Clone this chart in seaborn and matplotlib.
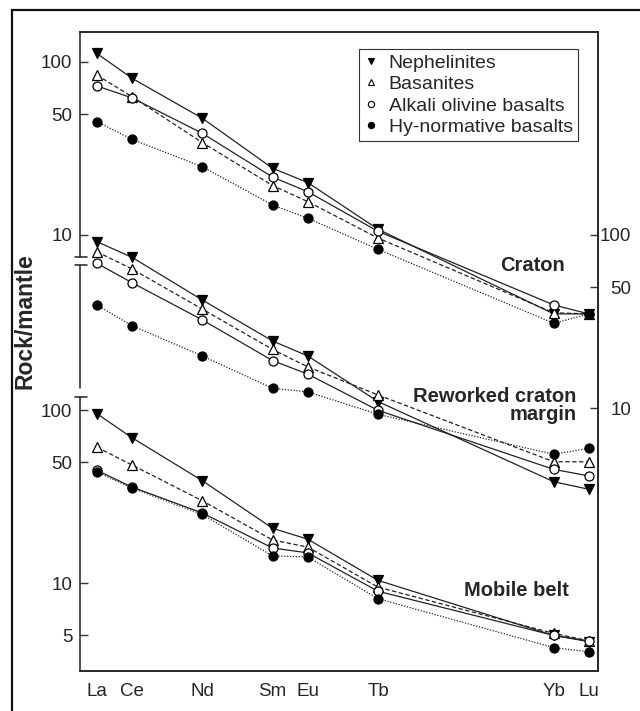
import pandas as pd
import matplotlib
matplotlib.use("Agg")
import matplotlib.pyplot as plt
import matplotlib.transforms as mtransforms
from matplotlib.lines import Line2D
from matplotlib.patches import Rectangle
from matplotlib.ticker import NullLocator, FixedLocator
import seaborn as sns

# REE data (rock / primitive mantle)
elements = ['La', 'Ce', 'Nd', 'Sm', 'Eu', 'Tb', 'Yb', 'Lu']
atomic_no = [57, 58, 60, 62, 63, 65, 70, 71]
rock_types = ['Nephelinites', 'Basanites', 'Alkali olivine basalts', 'Hy-normative basalts']

craton_neph = [112, 80.5, 47.3, 24.3, 20.1, 10.8, 3.5, 3.5]
craton_bas = [84, 63, 34.2, 19.3, 15.6, 9.6, 3.55, 3.5]
craton_alk = [72.7, 62, 38.7, 21.6, 17.8, 10.5, 3.94, 3.5]
craton_hy = [45.2, 35.7, 24.8, 14.9, 12.5, 8.26, 3.09, 3.5]

margin_neph = [91.5, 74.3, 42.1, 24.4, 20.0, 10.9, 3.75, 3.39]
margin_bas = [80.0, 63.6, 37.3, 21.8, 17.3, 11.9, 4.89, 4.89]
margin_alk = [68.6, 53.0, 32.3, 18.8, 15.7, 9.7, 4.42, 4.05]
margin_hy = [39.4, 29.9, 20.0, 13.0, 12.4, 9.2, 5.40, 5.85]

mobile_neph = [95.6, 69.4, 39.2, 20.8, 18.0, 10.4, 5.0, 4.6]
mobile_bas = [61.2, 48.3, 30.0, 17.8, 16.2, 9.5, 5.14, 4.65]
mobile_alk = [45, 36, 25.5, 16.0, 15.0, 9.0, 5.0, 4.65]
mobile_hy = [44, 35.5, 25.0, 14.4, 14.2, 8.15, 4.25, 4.02]

groups = {
    'Craton': [craton_neph, craton_bas, craton_alk, craton_hy],
    'Reworked craton margin': [margin_neph, margin_bas, margin_alk, margin_hy],
    'Mobile belt': [mobile_neph, mobile_bas, mobile_alk, mobile_hy],
}
# vertical offsets (multiplicative, log axis) used to stack the three panels
offsets = {'Craton': 1.0, 'Reworked craton margin': 0.1, 'Mobile belt': 0.0097}

left_ticks = [100, 50, 10]
left_ticks_low = [100, 50, 10, 5]
right_ticks = [100, 50, 10]

rows = []
for grp, series in groups.items():
    for rock, vals in zip(rock_types, series):
        for el, z, v in zip(elements, atomic_no, vals):
            rows.append({'group': grp, 'rock': rock, 'element': el, 'Z': z,
                         'value': v, 'plot_value': v * offsets[grp]})
df = pd.DataFrame(rows)

sns.set_style("white")
plt.rcParams['font.family'] = ['Liberation Sans', 'DejaVu Sans']

styles = {
    'Nephelinites': dict(marker='v', mfc='k', ls='-', ms=7),
    'Basanites': dict(marker='^', mfc='white', ls=(0, (3.5, 2)), ms=7),
    'Alkali olivine basalts': dict(marker='o', mfc='white', ls='-', ms=6.5),
    'Hy-normative basalts': dict(marker='o', mfc='k', ls=(0, (1, 1.3)), ms=6.5),
}
line_col = '#222222'

fig = plt.figure(figsize=(6.4, 7.11), dpi=100)
ax = fig.add_axes([80 / 640, 1 - 671 / 711, 518 / 640, 639 / 711])
ax.set_yscale('log')

for (grp, rock), sub in df.groupby(['group', 'rock'], sort=False):
    st = styles[rock]
    sns.lineplot(data=sub, x='Z', y='plot_value', ax=ax, color=line_col,
                 marker=st['marker'], markersize=st['ms'],
                 markerfacecolor=st['mfc'], markeredgecolor='k',
                 markeredgewidth=0.9, linestyle=st['ls'], lw=0.9,
                 estimator=None, sort=False, legend=False)

ax.set_xlim(56.52, 71.26)
ax.set_ylim(0.0302, 149)

# x axis
ax.set_xticks(atomic_no)
ax.set_xticklabels(elements)
ax.set_xlabel('')

# left axis: craton scale on top, mobile belt scale below
f_low = offsets['Mobile belt']
lt = left_ticks + [t * f_low for t in left_ticks_low]
ax.yaxis.set_major_locator(FixedLocator(lt))
ax.yaxis.set_minor_locator(NullLocator())
ax.set_yticklabels([str(t) for t in left_ticks + left_ticks_low])
ax.set_ylabel('Rock/mantle', fontsize=16.5, fontweight='bold')
ax.yaxis.set_label_coords(-0.084, 0.548)

ax.tick_params(axis='both', direction='in', length=6, width=1,
               labelsize=13.5, color='#333333')
ax.tick_params(axis='y', pad=5.5)
ax.tick_params(axis='x', pad=8.5)

# right axis: reworked craton margin scale
ax2 = ax.twinx()
ax2.set_yscale('log')
ax2.set_ylim(ax.get_ylim())
f_mid = offsets['Reworked craton margin']
ax2.yaxis.set_major_locator(FixedLocator([t * f_mid for t in right_ticks]))
ax2.yaxis.set_minor_locator(NullLocator())
ax2.set_yticklabels([str(t) for t in right_ticks])
ax2.tick_params(axis='y', direction='in', length=6, width=1,
                labelsize=13.5, pad=24, color='#333333')
for lab in ax2.get_yticklabels():
    lab.set_ha('right')

for a in (ax, ax2):
    for side in ['top', 'bottom', 'right']:
        a.spines[side].set_linewidth(1.1)
        a.spines[side].set_color('#222222')
    a.spines['left'].set_visible(False)

# broken left spine
trans = mtransforms.blended_transform_factory(ax.transAxes, ax.transData)
spine_kw = dict(color='#222222', lw=1.1, transform=trans, clip_on=False)
ax.plot([0, 0], [149, 7.46], **spine_kw)
ax.plot([0, 0], [6.71, 1.31], **spine_kw)
ax.plot([0, 0], [1.16, 0.0302], **spine_kw)
for yb in [7.46, 6.71, 1.16]:
    ax.plot([-0.0097, 0.0135], [yb, yb], **spine_kw)

# panel labels
lab_kw = dict(transform=ax.transAxes, fontsize=14.5, fontweight='bold',
              ha='right', va='center')
ax.text(0.936, 0.634, 'Craton', **lab_kw)
ax.text(0.959, 0.415, 'Reworked craton\nmargin', multialignment='right',
        linespacing=0.95, **lab_kw)
ax.text(0.944, 0.126, 'Mobile belt', **lab_kw)

# legend (markers only)
handles = [Line2D([], [], ls='none', marker=styles[r]['marker'],
                  mfc=styles[r]['mfc'], mec='k', mew=0.8, ms=4.5)
           for r in rock_types]
leg = ax.legend(handles, rock_types, loc='upper right',
                bbox_to_anchor=(0.961, 0.973), fontsize=14,
                frameon=True, fancybox=False, framealpha=1,
                edgecolor='#333333', handlelength=0.8, handletextpad=0.5,
                borderpad=0.25, labelspacing=0.2, borderaxespad=0)
leg.get_frame().set_linewidth(0.8)

# outer frame of the figure panel
fig.patches.append(Rectangle((12 / 640, -0.05), 1.1, 1 - 10 / 711 + 0.05,
                             transform=fig.transFigure, fill=False,
                             lw=1.6, edgecolor='#111111'))

fig.savefig('out.png', dpi=100)
